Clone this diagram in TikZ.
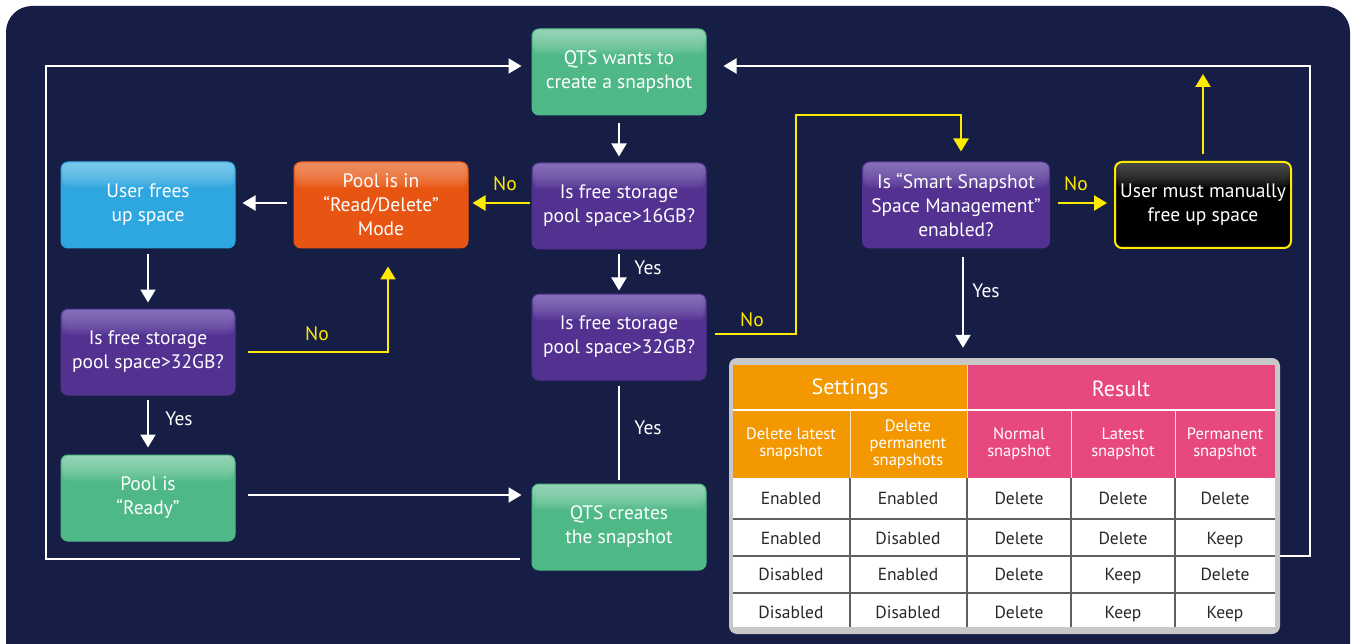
\documentclass[tikz,border=0pt]{standalone}
\usepackage{fontspec}
\setmainfont{PT Sans}
\usetikzlibrary{arrows.meta}

\definecolor{navy}{RGB}{22,30,70}
\definecolor{flowgreen}{RGB}{78,184,134}
\definecolor{greenlight}{RGB}{175,225,200}
\definecolor{flowpurple}{RGB}{82,49,145}
\definecolor{purplelight}{RGB}{155,135,200}
\definecolor{floworange}{RGB}{232,85,18}
\definecolor{orangelight}{RGB}{245,165,125}
\definecolor{flowblue}{RGB}{46,166,223}
\definecolor{bluelight}{RGB}{150,215,243}
\definecolor{boxblack}{RGB}{0,0,0}
\definecolor{blacklight}{RGB}{100,100,100}
\definecolor{flowyellow}{RGB}{255,235,0}
\definecolor{tablegray}{RGB}{200,200,200}
\definecolor{setorange}{RGB}{243,152,0}
\definecolor{respink}{RGB}{232,72,128}
\definecolor{gridgray}{RGB}{95,95,95}
\definecolor{celltext}{RGB}{40,40,40}

\newcommand\boxfont{\fontsize{19.5}{24}\selectfont}
\newcommand\headfont{\fontsize{22}{26}\selectfont}
\newcommand\subfont{\fontsize{16.5}{17}\selectfont}
\newcommand\cellfont{\fontsize{17.5}{20}\selectfont}

\tikzset{
    flowbox/.style 2 args={draw=#1, line width=1pt, fill=#1, rounded corners=7pt,
        minimum width=174pt, minimum height=86pt, text=white, align=center,
        font=\boxfont, inner sep=2pt,
        path picture={\foreach \k in {1,...,13}{
            \fill[#2, opacity=0.1] (path picture bounding box.north west)
                rectangle ([yshift=-2pt*\k]path picture bounding box.north east);}}},
    warrow/.style={draw=white, line width=2pt, -{Triangle[length=13pt,width=15pt]}},
    wline/.style={draw=white, line width=2pt},
    yarrow/.style={draw=flowyellow, line width=2.5pt, -{Triangle[length=13pt,width=15pt]}},
    ylabel/.style={text=flowyellow, font=\boxfont},
    wlabel/.style={text=white, font=\boxfont},
    cell/.style={text=celltext, font=\cellfont, text height=12pt, text depth=3pt},
    subcell/.style={text=white, font=\subfont, align=center},
}

\begin{document}
\begin{tikzpicture}[x=1pt,y=-1pt]
    \useasboundingbox (0,0) rectangle (1354,644);
    \fill[white] (0,0) rectangle (1354,644);
    \begin{scope}
        \clip (0,0) rectangle (1354,644);
        \fill[navy, rounded corners=26pt] (6,6) rectangle (1350,700);
    \end{scope}

    % flow boxes
    \node[flowbox={flowgreen}{greenlight}] (want) at (619,72) {QTS wants to\\create a snapshot};
    \node[flowbox={flowpurple}{purplelight}] (q16) at (619,206) {Is free storage\\pool space>16GB?};
    \node[flowbox={flowpurple}{purplelight}] (q32) at (619,337) {Is free storage\\pool space>32GB?};
    \node[flowbox={flowgreen}{greenlight}] (create) at (619,527) {QTS creates\\the snapshot};
    \node[flowbox={floworange}{orangelight}] (readdel) at (381,205) {Pool is in\\“Read/Delete”\\Mode};
    \node[flowbox={flowblue}{bluelight}] (userfree) at (148,205) {User frees\\up space};
    \node[flowbox={flowpurple}{purplelight}] (q32b) at (148,352) {Is free storage\\pool space>32GB?};
    \node[flowbox={flowgreen}{greenlight}] (ready) at (148,498) {Pool is\\“Ready”};
    \node[flowbox={flowpurple}{purplelight}, minimum width=187pt] (smart) at (956,205) {Is “Smart Snapshot\\Space Management”\\enabled?};
    \node[flowbox={boxblack}{blacklight}, draw=flowyellow, line width=2pt, minimum width=176pt] (manual) at (1203,205) {User must manually\\free up space};

    % table
    \node[fill=tablegray, rounded corners=8pt, minimum width=551pt, minimum height=276pt, inner sep=0pt] (tbl) at (1004.5,496) {};
    \fill[setorange] (733,365) rectangle (967,478);
    \fill[respink] (967,365) rectangle (1275,478);
    \fill[white] (733,478) rectangle (1275,627);
    \draw[white, line width=2.5pt] (733,410) -- (1275,410);
    \draw[white!70!setorange, line width=1pt] (967,365) -- (967,478);
    \foreach \x in {850,1071,1175}{
        \draw[white!70!setorange, line width=1pt] (\x,411) -- (\x,478);
    }
    \foreach \x in {850,967,1071,1175}{
        \draw[gridgray, line width=1.2pt] (\x,478) -- (\x,627);
    }
    \foreach \y in {519,556,593}{
        \draw[gridgray, line width=1.2pt] (733,\y) -- (1275,\y);
    }
    \node[text=white, font=\headfont] (settings) at (850,389) {Settings};
    \node[text=white, font=\headfont] (result) at (1121,389) {Result};
    \node[subcell] (h1) at (791,444) {Delete latest\\snapshot};
    \node[subcell] (h2) at (908,444) {Delete\\permanent\\snapshots};
    \node[subcell] (h3) at (1019,444) {Normal\\snapshot};
    \node[subcell] (h4) at (1123,444) {Latest\\snapshot};
    \node[subcell] (h5) at (1225,444) {Permanent\\snapshot};
    \foreach \y/\a/\b/\c/\d/\e in {500/Enabled/Enabled/Delete/Delete/Delete,
                                   540/Enabled/Disabled/Delete/Delete/Keep,
                                   576/Disabled/Enabled/Delete/Keep/Delete,
                                   614/Disabled/Disabled/Delete/Keep/Keep}{
        \node[cell] (c\y-1) at (791,\y) {\a};
        \node[cell] (c\y-2) at (908,\y) {\b};
        \node[cell] (c\y-3) at (1019,\y) {\c};
        \node[cell] (c\y-4) at (1123,\y) {\d};
        \node[cell] (c\y-5) at (1225,\y) {\e};
    }

    % loop corners
    \coordinate (ltop) at (46,66);
    \coordinate (lbot) at (46,559);
    \coordinate (rtop) at (1310,66);
    \coordinate (rbot) at (1310,556);
    \coordinate (ybend) at (796,115);

    % connectors
    \draw[warrow, shorten <=8pt, shorten >=6pt] (want) -- (q16);
    \draw[yarrow, shorten <=2pt, shorten >=4pt] ([yshift=2pt]q16.west |- readdel.east) -- ([yshift=2pt]readdel.east);
    \draw[warrow, shorten <=7pt, shorten >=7pt] ([yshift=2pt]readdel.west) -- ([yshift=2pt]userfree.east);
    \draw[warrow, shorten <=6pt, shorten >=6pt] (userfree) -- (q32b);
    \draw[yarrow, shorten <=12pt, shorten >=18pt] (q32b.east) -| ([xshift=7pt]readdel.south);
    \draw[warrow, shorten <=4pt, shorten >=7pt] (q32b) -- (ready);
    \draw[warrow, shorten <=12pt, shorten >=10pt] ([yshift=3pt]ready.east) -- ([yshift=3pt]ready.east -| create.west);
    \draw[warrow, shorten <=5pt, shorten >=3pt] (q16) -- (q32);
    \draw[wline, shorten <=5pt, shorten >=4pt] (q32) -- (create);
    \draw[yarrow, shorten <=8pt, shorten >=10pt] ([yshift=3pt]q32.east) -| (ybend) -| ([xshift=5pt]smart.north);
    \draw[yarrow, shorten <=8pt, shorten >=7pt] ([yshift=2pt]smart.east |- manual.west) -- ([yshift=2pt]manual.west);
    \draw[yarrow, shorten <=7pt] (manual.north) -- ++(0,-87);
    \draw[warrow, shorten <=9pt, shorten >=10pt] ([xshift=7pt]smart.south) -- ([xshift=7pt]smart.south |- tbl.north);
    \draw[warrow, shorten <=12pt, shorten >=10pt] (lbot -| create.west) -- (lbot) -- (ltop) -- (ltop -| want.west);
    \draw[warrow, shorten >=17pt] (rbot -| tbl.east) -- (rbot) -- (rtop) -- (rtop -| want.east);

    % labels
    \node[ylabel] (no1) at (505,184) {No};
    \node[ylabel] (no2) at (317,334) {No};
    \node[ylabel] (no3) at (752,320) {No};
    \node[ylabel] (no4) at (1076,184) {No};
    \node[wlabel] (yes1) at (648,268) {Yes};
    \node[wlabel] (yes2) at (179,419) {Yes};
    \node[wlabel] (yes3) at (648,428) {Yes};
    \node[wlabel] (yes4) at (986,291) {Yes};
\end{tikzpicture}
\end{document}
